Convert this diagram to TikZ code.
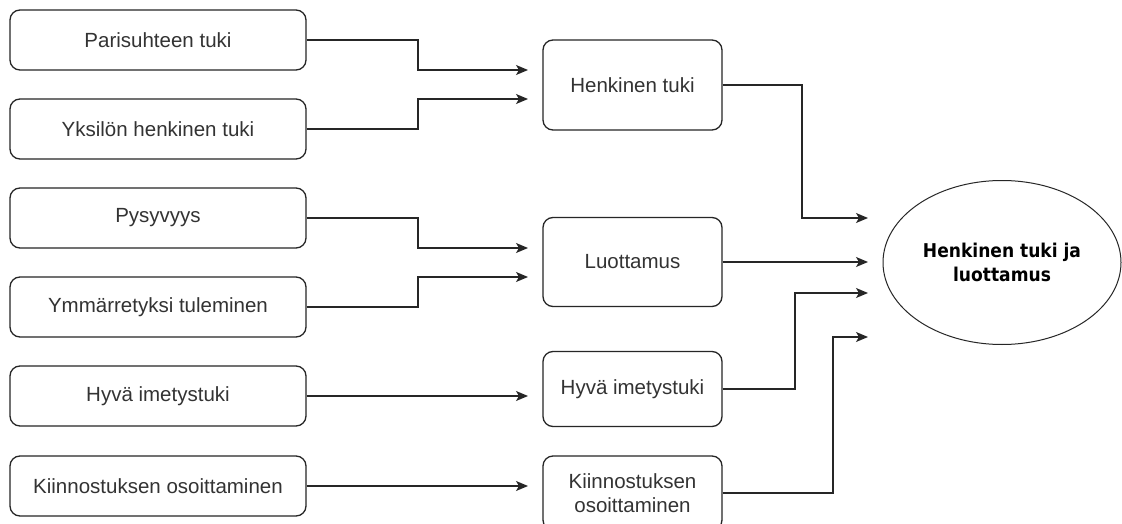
\documentclass[tikz,border=0pt]{standalone}
\usepackage{fontspec}
\setmainfont{Liberation Sans}
\newfontfamily\ellfont{DejaVu Sans Condensed}
\usetikzlibrary{arrows.meta,shapes.geometric}
\begin{document}
\begin{tikzpicture}[x=1pt,y=-1pt,
  box/.style={draw=black!85, rounded corners=10pt, line width=1.3pt, minimum width=296pt, minimum height=60pt, inner sep=0pt, align=center, text=black!80, font=\fontsize{20.5}{24.5}\selectfont},
  mbox/.style={box, minimum width=179pt},
  arr/.style={draw=black!85, line width=1.3pt, -{Stealth[length=12pt,width=10pt,inset=3pt]}},
]
\clip (0,0) rectangle (1122,524);
\fill[white] (0,0) rectangle (1122,524);
% left boxes
\node[box] (b1) at (158,40) {Parisuhteen tuki};
\node[box] (b2) at (158,129) {Yksilön henkinen tuki};
\node[box] (b3) at (158,218) {Pysyvyys};
\node[box] (b4) at (158,307) {Ymmärretyksi tuleminen};
\node[box] (b5) at (158,396) {Hyvä imetystuki};
\node[box] (b6) at (158,486) {Kiinnostuksen osoittaminen};
% middle boxes
\node[mbox, minimum height=90pt] (mh) at (632.5,85) {Henkinen tuki};
\node[mbox, minimum height=89pt] (ml) at (632.5,262) {Luottamus};
\node[mbox, minimum height=75pt] (mi) at (632.5,389) {Hyvä imetystuki};
\node[mbox, minimum height=74pt] (mk) at (632.5,493) {Kiinnostuksen\\osoittaminen};
% target ellipse
\node[draw=black!85, ellipse, minimum width=238pt, minimum height=164pt, inner sep=0pt, line width=1pt, align=center, font=\ellfont\fontsize{19}{24}\selectfont\bfseries] (e) at (1002,262.5) {Henkinen tuki ja\\luottamus};
% helper coordinates
\coordinate (xa) at (418,0);
\coordinate (xb) at (802,0);
\coordinate (xc) at (795,0);
\coordinate (xd) at (833,0);
\coordinate (t1) at (528,70);
\coordinate (t2) at (528,99);
\coordinate (t3) at (528,248);
\coordinate (t4) at (528,277);
\coordinate (t5) at (528,396);
\coordinate (t6) at (528,486);
\coordinate (u1) at (868,218);
\coordinate (u2) at (868,262);
\coordinate (u3) at (868,293);
\coordinate (u4) at (868,337);
% connectors
\draw[arr] (b1.east) -- (b1.east -| xa) |- (t1);
\draw[arr] (b2.east) -- (b2.east -| xa) |- (t2);
\draw[arr] (b3.east) -- (b3.east -| xa) |- (t3);
\draw[arr] (b4.east) -- (b4.east -| xa) |- (t4);
\draw[arr] (b5.east) -- (t5);
\draw[arr] (b6.east) -- (t6);
\draw[arr] (mh.east) -- (mh.east -| xb) |- (u1);
\draw[arr] (ml.east) -- (u2);
\draw[arr] (mi.east) -- (mi.east -| xc) |- (u3);
\draw[arr] (mk.east) -- (mk.east -| xd) |- (u4);
\end{tikzpicture}
\end{document}
